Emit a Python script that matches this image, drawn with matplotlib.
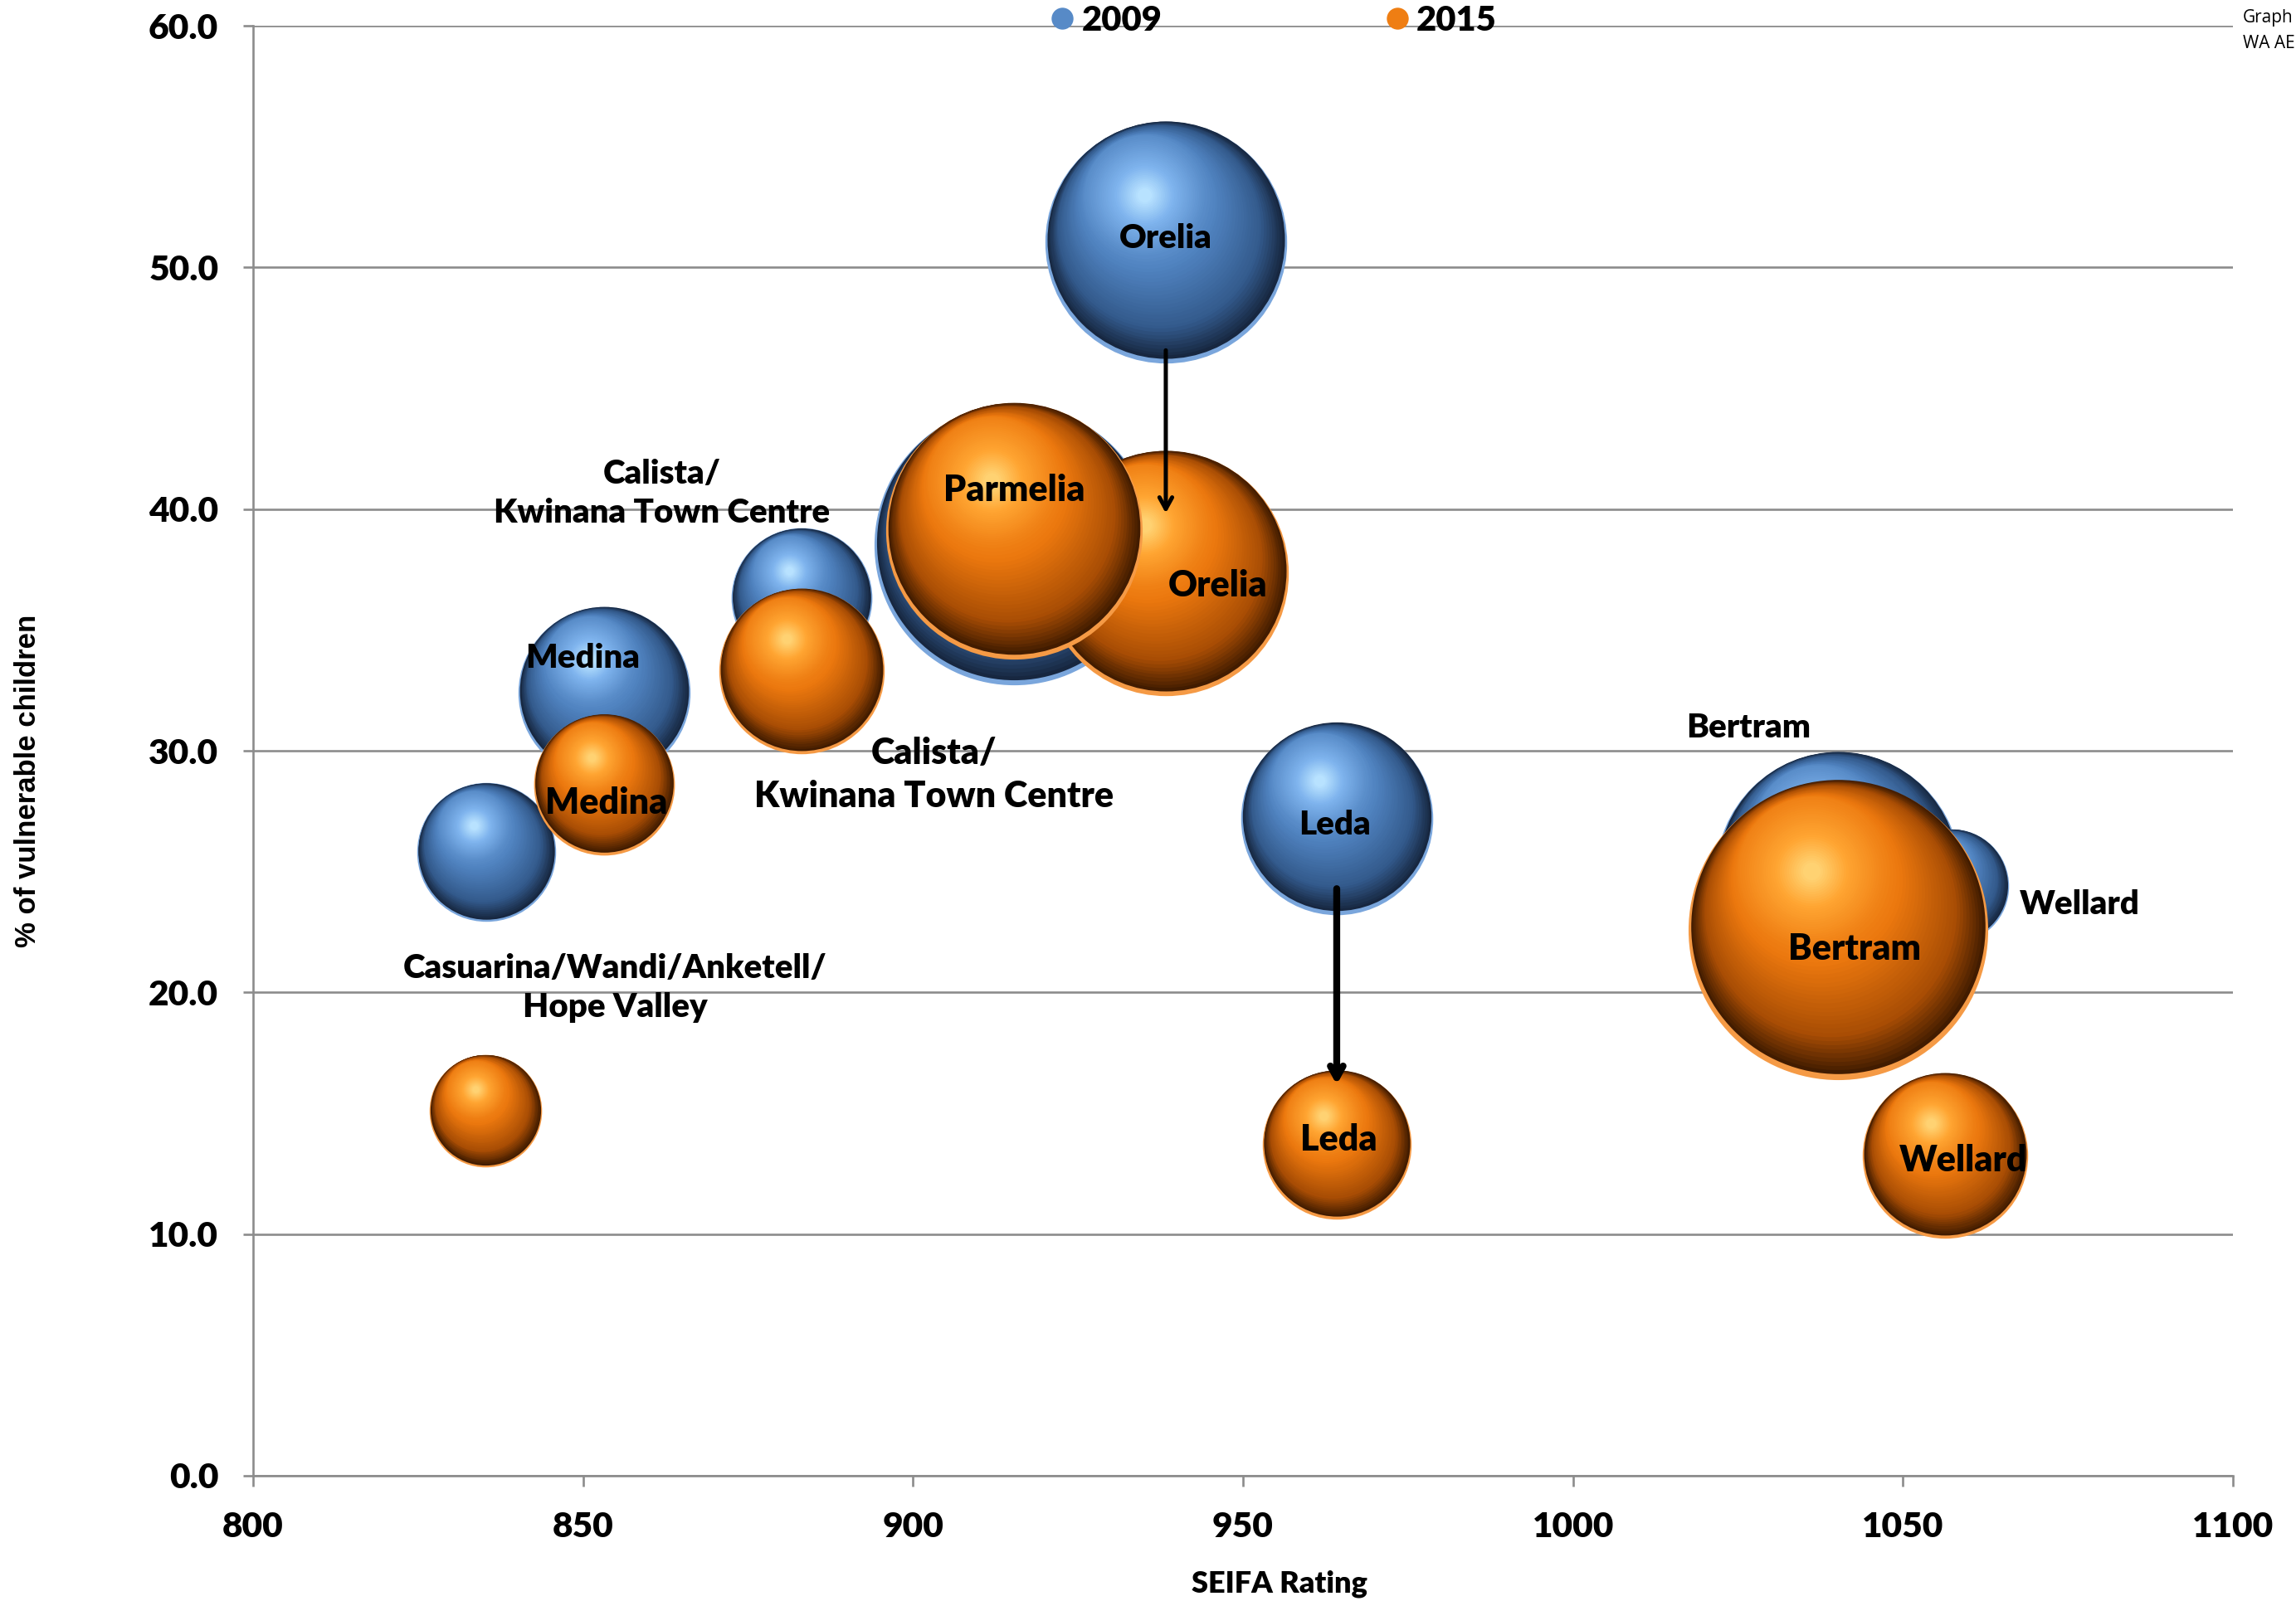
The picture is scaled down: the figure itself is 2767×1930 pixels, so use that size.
import numpy as np
import matplotlib
matplotlib.use("Agg")
import matplotlib.pyplot as plt
from matplotlib.transforms import ScaledTranslation
from matplotlib.colors import to_rgb
from matplotlib.lines import Line2D

# ---------------- data ----------------
suburbs = ["Casuarina/Wandi/Anketell/\nHope Valley", "Medina", "Calista/\nKwinana Town Centre",
           "Orelia", "Parmelia", "Leda", "Bertram", "Wellard"]
years = ["2009", "2015"]
seifa_2009 = [835.3, 853.2, 883.1, 938.3, 915.3, 964.2, 1040.2, 1057.4]
seifa_2015 = [835.2, 853.2, 883.1, 938.3, 915.3, 964.2, 1040.2, 1056.4]
vuln_2009 = [25.8, 32.4, 36.3, 51.05, 38.5, 27.2, 24.9, 24.4]
vuln_2015 = [15.1, 28.6, 33.3, 37.35, 39.1, 13.7, 22.6, 13.25]
size_2009 = [21.5, 33.0, 22.1, 65.1, 87.2, 41.1, 66.9, 14.5]
size_2015 = [14.1, 22.1, 30.5, 66.9, 73.3, 24.7, 100.0, 30.5]
show_label_2009 = [True, True, True, True, False, True, True, True]
show_label_2015 = [False, True, True, True, True, True, True, True]
x_ticks = [800, 850, 900, 950, 1000, 1050, 1100]
y_ticks = [0, 10, 20, 30, 40, 50, 60]
arrow_suburbs = ["Orelia", "Leda"]
source_lines = ["Graph", "WA AE"]

# ---------------- style / layout ----------------
FONT = "Lato"
WEIGHT = 800
GRAY = "#8c8c8c"
MAX_R_PT = 130.0  # radius (points) of largest bubble
label_size = {"2009": 29, "2015": 31}
label_offsets_2009 = [(112, -118), (-19, 30), (-121, 91), (0, 3), (0, 0), (-2, -6), (-78, 127), (111, -16)]
label_offsets_2015 = [(0, 0), (2, -16), (115, -90), (45, -11), (0, 35), (2, 4), (14, -17), (16, -4)]
arrow_shrink = {"Orelia": (94, 52, 3.6), "Leda": (61, 52, 6.0)}

blue_stops = [(0.0, "#172740"), (0.15, "#335a8c"), (0.45, "#5083c0"), (0.8, "#7fb4ee"), (1.0, "#b8e2ff")]
orange_stops = [(0.0, "#421c00"), (0.15, "#a84d04"), (0.45, "#ec780e"), (0.8, "#ffa532"), (1.0, "#ffd272")]
blue_rim = "#7aa6dc"
orange_rim = "#f59a45"

fig = plt.figure(figsize=(27.67, 19.30), dpi=100)
ax = fig.add_axes([305 / 2767, 1 - 1779 / 1930, 2386 / 2767, 1748 / 1930])


def grad(stops, t):
    for (t0, c0), (t1, c1) in zip(stops[:-1], stops[1:]):
        if t0 <= t <= t1:
            f = (t - t0) / (t1 - t0)
            a, b = np.array(to_rgb(c0)), np.array(to_rgb(c1))
            return tuple(a + (b - a) * f)
    return to_rgb(stops[-1][1])


def shifted(dx_pt, dy_pt):
    return ax.transData + ScaledTranslation(dx_pt / 72.0, dy_pt / 72.0, fig.dpi_scale_trans)


def sphere(x, y, r_pt, stops, rim, z):
    # light reflection rim at the bottom
    ax.scatter([x], [y], s=(2 * r_pt) ** 2, color=rim, linewidths=0, zorder=z)
    N = 60
    hx, hy = -0.18, 0.38
    r0 = r_pt * 0.982
    for k in range(N):
        t = k / (N - 1)
        rk = r0 * (1 - 0.94 * t)
        g = min(1.0, 1.9 * t)
        dx = g * hx * r0
        dy = g * hy * r0 + 0.018 * r_pt
        ax.scatter([x], [y], s=(2 * rk) ** 2, color=grad(stops, t), linewidths=0,
                   transform=shifted(dx, dy), zorder=z + (k + 1) * 0.001)


max_size = max(max(size_2009), max(size_2015))
z = 3
for xs, ys, ss, stops, rim in [(seifa_2009, vuln_2009, size_2009, blue_stops, blue_rim),
                               (seifa_2015, vuln_2015, size_2015, orange_stops, orange_rim)]:
    for x, y, s in zip(xs, ys, ss):
        r = MAX_R_PT * np.sqrt(s / max_size)
        sphere(x, y, r, stops, rim, z)
        z += 0.1

# data labels
lab_kw = dict(textcoords="offset points", ha="center", va="center",
              fontweight=WEIGHT, family=FONT, color="black", zorder=20, linespacing=1.35)
for yr, xs, ys, shows, offs in [("2009", seifa_2009, vuln_2009, show_label_2009, label_offsets_2009),
                                ("2015", seifa_2015, vuln_2015, show_label_2015, label_offsets_2015)]:
    for name, x, y, sh, off in zip(suburbs, xs, ys, shows, offs):
        if sh:
            ax.annotate(name, xy=(x, y), xytext=off, fontsize=label_size[yr], **lab_kw)

# arrows
for nm in arrow_suburbs:
    i = suburbs.index(nm)
    sa, sb, lw = arrow_shrink[nm]
    ax.annotate("", xy=(seifa_2015[i], vuln_2015[i]), xytext=(seifa_2009[i], vuln_2009[i]),
                arrowprops=dict(arrowstyle="->,head_length=1.0,head_width=0.55", color="black",
                                lw=lw, shrinkA=sa, shrinkB=sb),
                zorder=21)

# axes
ax.set_xlim(x_ticks[0], x_ticks[-1])
ax.set_ylim(y_ticks[0], y_ticks[-1])
ax.set_xticks(x_ticks)
ax.set_yticks(y_ticks)
ax.set_xticklabels([str(v) for v in x_ticks])
ax.set_yticklabels([f"{v:.1f}" for v in y_ticks])
for lab in ax.get_xticklabels() + ax.get_yticklabels():
    lab.set_family(FONT)
    lab.set_fontweight(WEIGHT)
    lab.set_fontsize(30.5)
ax.tick_params(axis="both", direction="out", length=9, width=1.9, color=GRAY)
ax.tick_params(axis="x", pad=22)
ax.tick_params(axis="y", pad=21)
ax.yaxis.grid(True, color=GRAY, linewidth=1.9, zorder=0)
ax.set_axisbelow(True)
for sp in ["top", "right"]:
    ax.spines[sp].set_visible(False)
for sp in ["left", "bottom"]:
    ax.spines[sp].set_color(GRAY)
    ax.spines[sp].set_linewidth(1.9)

fig.text(1542 / 2767, 1 - 1909 / 1930, "SEIFA Rating", ha="center", va="center",
         fontsize=26, fontweight=WEIGHT, family=FONT)
fig.text(34 / 2767, 1 - 941 / 1930, "% of vulnerable children", ha="center", va="center",
         rotation=90, fontsize=25, fontweight="bold", family="Liberation Sans")

# legend
handles = [Line2D([], [], marker="o", linestyle="none", markersize=19, markeredgewidth=0,
                  color=grad(blue_stops, 0.5)),
           Line2D([], [], marker="o", linestyle="none", markersize=19, markeredgewidth=0,
                  color=grad(orange_stops, 0.5))]
leg = ax.legend(handles, years, loc="center", bbox_to_anchor=(0.514, 1.0034), ncol=2,
                frameon=False, prop=dict(family=FONT, weight=WEIGHT, size=30),
                handletextpad=0.05, columnspacing=6.3, handlelength=1.0, borderaxespad=0)
leg.set_zorder(30)

# source note at the top-right corner
fig.text(2703 / 2767, 1 - 21 / 1930, source_lines[0], ha="left", va="center", fontsize=15,
         family="Open Sans")
fig.text(2703 / 2767, 1 - 53 / 1930, source_lines[1], ha="left", va="center", fontsize=15,
         family="Open Sans")

fig.savefig("out.png", dpi=100)
